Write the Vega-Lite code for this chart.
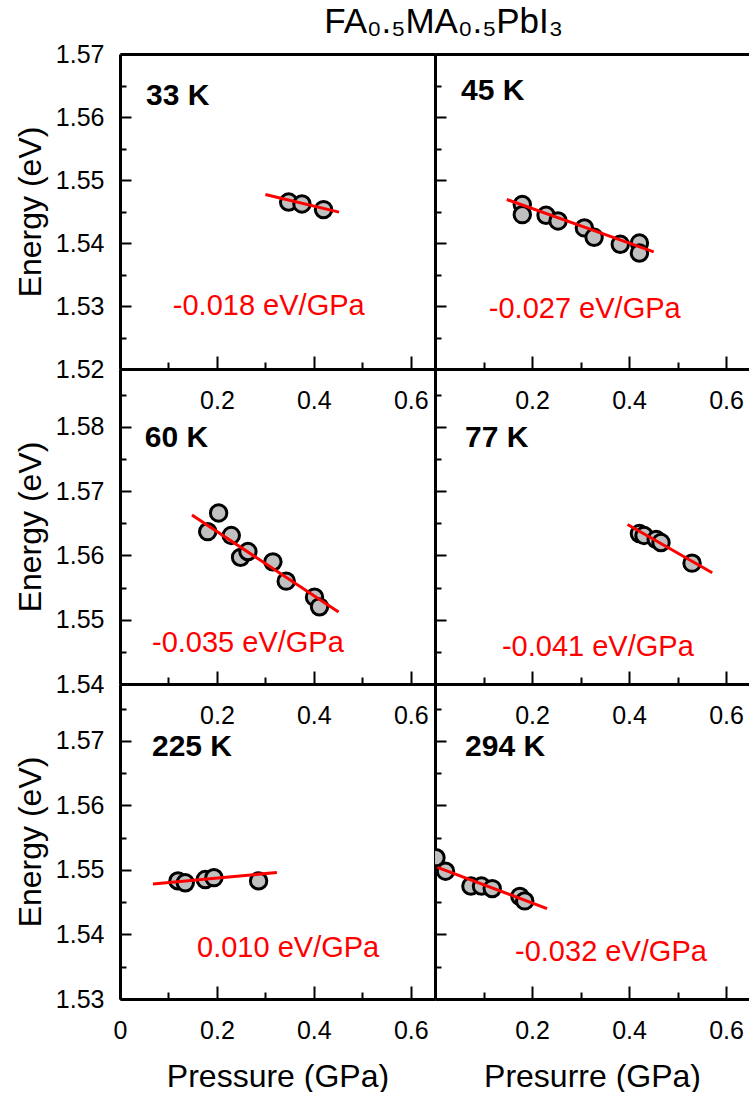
{
  "$schema": "https://vega.github.io/schema/vega-lite/v6.json",
  "background": "white",
  "padding": {"left": 14, "top": 5, "right": 0, "bottom": 0},
  "title": {"text": "FA₀.₅MA₀.₅PbI₃", "anchor": "middle", "dx": 62, "fontSize": 35, "offset": 2, "font": "Liberation Sans", "fontWeight": "normal", "color": "black"},
  "config": {
    "view": {"stroke": null},
    "axis": {"domainColor": "black", "domainWidth": 3, "tickColor": "black", "tickWidth": 2, "labelFont": "Liberation Sans", "labelFontSize": 25, "labelColor": "black", "titleFont": "Liberation Sans", "titleFontSize": 32, "titleFontWeight": "normal", "titleColor": "black", "grid": false, "labelFlush": false, "labelOverlap": false, "zindex": 1}
  },
  "datasets": {
    "pts": [
      {"panel": "33 K", "P": 0.348, "E": 1.5465},
      {"panel": "33 K", "P": 0.3755, "E": 1.5462},
      {"panel": "33 K", "P": 0.42, "E": 1.5453},
      {"panel": "45 K", "P": 0.18, "E": 1.5461},
      {"panel": "45 K", "P": 0.18, "E": 1.5445},
      {"panel": "45 K", "P": 0.229, "E": 1.5444},
      {"panel": "45 K", "P": 0.2537, "E": 1.5435},
      {"panel": "45 K", "P": 0.308, "E": 1.5424},
      {"panel": "45 K", "P": 0.328, "E": 1.5409},
      {"panel": "45 K", "P": 0.382, "E": 1.5398},
      {"panel": "45 K", "P": 0.4215, "E": 1.54},
      {"panel": "45 K", "P": 0.4215, "E": 1.5384},
      {"panel": "60 K", "P": 0.181, "E": 1.5637},
      {"panel": "60 K", "P": 0.2035, "E": 1.5666},
      {"panel": "60 K", "P": 0.2296, "E": 1.5631},
      {"panel": "60 K", "P": 0.2488, "E": 1.5597},
      {"panel": "60 K", "P": 0.264, "E": 1.5606},
      {"panel": "60 K", "P": 0.3155, "E": 1.559},
      {"panel": "60 K", "P": 0.343, "E": 1.556},
      {"panel": "60 K", "P": 0.4014, "E": 1.5535},
      {"panel": "60 K", "P": 0.4117, "E": 1.552},
      {"panel": "77 K", "P": 0.4215, "E": 1.5634},
      {"panel": "77 K", "P": 0.431, "E": 1.5631},
      {"panel": "77 K", "P": 0.456, "E": 1.5625},
      {"panel": "77 K", "P": 0.466, "E": 1.562},
      {"panel": "77 K", "P": 0.53, "E": 1.5588},
      {"panel": "225 K", "P": 0.1196, "E": 1.5483},
      {"panel": "225 K", "P": 0.1347, "E": 1.548},
      {"panel": "225 K", "P": 0.176, "E": 1.5485},
      {"panel": "225 K", "P": 0.1938, "E": 1.5488},
      {"panel": "225 K", "P": 0.286, "E": 1.5483},
      {"panel": "294 K", "P": 0.002, "E": 1.5519},
      {"panel": "294 K", "P": 0.0217, "E": 1.5498},
      {"panel": "294 K", "P": 0.074, "E": 1.5475},
      {"panel": "294 K", "P": 0.0958, "E": 1.5475},
      {"panel": "294 K", "P": 0.118, "E": 1.5471},
      {"panel": "294 K", "P": 0.175, "E": 1.5459},
      {"panel": "294 K", "P": 0.185, "E": 1.5452}
    ],
    "fits": [
      {"panel": "33 K", "P": 0.3, "E": 1.5477},
      {"panel": "33 K", "P": 0.452, "E": 1.5449},
      {"panel": "45 K", "P": 0.148, "E": 1.5469},
      {"panel": "45 K", "P": 0.451, "E": 1.5386},
      {"panel": "60 K", "P": 0.1485, "E": 1.5663},
      {"panel": "60 K", "P": 0.451, "E": 1.5512},
      {"panel": "77 K", "P": 0.397, "E": 1.5648},
      {"panel": "77 K", "P": 0.5716, "E": 1.5573},
      {"panel": "225 K", "P": 0.068, "E": 1.5478},
      {"panel": "225 K", "P": 0.3237, "E": 1.5496},
      {"panel": "294 K", "P": 0.005, "E": 1.5504},
      {"panel": "294 K", "P": 0.231, "E": 1.544}
    ],
    "notes": [
      {"panel": "33 K", "kind": "name", "text": "33 K", "P": 0.0536, "E": 1.5619},
      {"panel": "45 K", "kind": "name", "text": "45 K", "P": 0.0536, "E": 1.5627},
      {"panel": "60 K", "kind": "name", "text": "60 K", "P": 0.051, "E": 1.5769},
      {"panel": "77 K", "kind": "name", "text": "77 K", "P": 0.062, "E": 1.5769},
      {"panel": "225 K", "kind": "name", "text": "225 K", "P": 0.066, "E": 1.5677},
      {"panel": "294 K", "kind": "name", "text": "294 K", "P": 0.062, "E": 1.5677},
      {"panel": "33 K", "kind": "slope", "text": "-0.018 eV/GPa", "P": 0.109, "E": 1.5286},
      {"panel": "45 K", "kind": "slope", "text": "-0.027 eV/GPa", "P": 0.111, "E": 1.5281},
      {"panel": "60 K", "kind": "slope", "text": "-0.035 eV/GPa", "P": 0.066, "E": 1.545},
      {"panel": "77 K", "kind": "slope", "text": "-0.041 eV/GPa", "P": 0.138, "E": 1.5444},
      {"panel": "225 K", "kind": "slope", "text": "0.010 eV/GPa", "P": 0.159, "E": 1.5365},
      {"panel": "294 K", "kind": "slope", "text": "-0.032 eV/GPa", "P": 0.165, "E": 1.5359}
    ]
  },
  "columns": 2,
  "spacing": 0,
  "bounds": "flush",
  "concat": [
    {
      "width": 315, "height": 315,
      "layer": [
        {"data": {"name": "pts"}, "transform": [{"filter": "datum.panel === '33 K'"}],
         "mark": {"type": "circle", "fill": "#c0c0c0", "stroke": "black", "strokeWidth": 3, "size": 270, "opacity": 1},
         "encoding": {
           "x": {"field": "P", "type": "quantitative", "scale": {"domain": [0, 0.65], "nice": false, "zero": false}, "axis": {"orient": "bottom", "values": [0.2, 0.4, 0.6], "format": "~g", "tickSize": -13, "labelPadding": 32, "title": null}},
           "y": {"field": "E", "type": "quantitative", "scale": {"domain": [1.52, 1.57], "nice": false, "zero": false}, "axis": {"orient": "left", "values": [1.52, 1.53, 1.54, 1.55, 1.56, 1.57], "format": ".2f", "tickSize": -11, "labelPadding": 27, "title": "Energy (eV)", "titlePadding": 8}}}},
        {"data": {"name": "fits"}, "transform": [{"filter": "datum.panel === '33 K'"}],
         "mark": {"type": "line", "color": "#ff0000", "strokeWidth": 3},
         "encoding": {
           "x": {"field": "P", "type": "quantitative", "scale": {"domain": [0, 0.65], "nice": false, "zero": false}, "axis": {"orient": "bottom", "values": [0.1, 0.3, 0.5], "tickSize": -7, "labels": false, "domain": false, "title": null}},
           "y": {"field": "E", "type": "quantitative", "scale": {"domain": [1.52, 1.57], "nice": false, "zero": false}, "axis": {"orient": "left", "values": [1.525, 1.535, 1.545, 1.555, 1.565], "tickSize": -6, "labels": false, "domain": false, "title": null}}}},
        {"data": {"name": "notes"}, "transform": [{"filter": "datum.panel === '33 K' && datum.kind === 'name'"}],
         "mark": {"type": "text", "align": "left", "baseline": "alphabetic", "font": "Liberation Sans", "fontSize": 30, "fontWeight": "bold", "color": "black"},
         "encoding": {
           "x": {"field": "P", "type": "quantitative", "scale": {"domain": [0, 0.65], "nice": false, "zero": false}, "axis": {"orient": "top", "ticks": false, "labels": false, "title": null, "domain": true}},
           "y": {"field": "E", "type": "quantitative", "scale": {"domain": [1.52, 1.57], "nice": false, "zero": false}, "axis": null},
           "text": {"field": "text"}}},
        {"data": {"name": "notes"}, "transform": [{"filter": "datum.panel === '33 K' && datum.kind === 'slope'"}],
         "mark": {"type": "text", "align": "left", "baseline": "alphabetic", "font": "Liberation Sans", "fontSize": 29, "color": "#ff0000"},
         "encoding": {
           "x": {"field": "P", "type": "quantitative", "scale": {"domain": [0, 0.65], "nice": false, "zero": false}, "axis": null},
           "y": {"field": "E", "type": "quantitative", "scale": {"domain": [1.52, 1.57], "nice": false, "zero": false}, "axis": null},
           "text": {"field": "text"}}}
      ],
      "resolve": {"axis": {"x": "independent", "y": "independent"}}
    },
    {
      "width": 314, "height": 315,
      "layer": [
        {"data": {"name": "pts"}, "transform": [{"filter": "datum.panel === '45 K'"}],
         "mark": {"type": "circle", "fill": "#c0c0c0", "stroke": "black", "strokeWidth": 3, "size": 270, "opacity": 1},
         "encoding": {
           "x": {"field": "P", "type": "quantitative", "scale": {"domain": [0, 0.6474], "nice": false, "zero": false}, "axis": {"orient": "bottom", "values": [0.2, 0.4, 0.6], "format": "~g", "tickSize": -13, "labelPadding": 32, "title": null}},
           "y": {"field": "E", "type": "quantitative", "scale": {"domain": [1.52, 1.57], "nice": false, "zero": false}, "axis": {"orient": "left", "values": [1.52, 1.53, 1.54, 1.55, 1.56, 1.57], "tickSize": -11, "labels": false, "title": null}}}},
        {"data": {"name": "fits"}, "transform": [{"filter": "datum.panel === '45 K'"}],
         "mark": {"type": "line", "color": "#ff0000", "strokeWidth": 3},
         "encoding": {
           "x": {"field": "P", "type": "quantitative", "scale": {"domain": [0, 0.6474], "nice": false, "zero": false}, "axis": {"orient": "bottom", "values": [0.1, 0.3, 0.5], "tickSize": -7, "labels": false, "domain": false, "title": null}},
           "y": {"field": "E", "type": "quantitative", "scale": {"domain": [1.52, 1.57], "nice": false, "zero": false}, "axis": {"orient": "left", "values": [1.525, 1.535, 1.545, 1.555, 1.565], "tickSize": -6, "labels": false, "domain": false, "title": null}}}},
        {"data": {"name": "notes"}, "transform": [{"filter": "datum.panel === '45 K' && datum.kind === 'name'"}],
         "mark": {"type": "text", "align": "left", "baseline": "alphabetic", "font": "Liberation Sans", "fontSize": 30, "fontWeight": "bold", "color": "black"},
         "encoding": {
           "x": {"field": "P", "type": "quantitative", "scale": {"domain": [0, 0.6474], "nice": false, "zero": false}, "axis": {"orient": "top", "ticks": false, "labels": false, "title": null, "domain": true}},
           "y": {"field": "E", "type": "quantitative", "scale": {"domain": [1.52, 1.57], "nice": false, "zero": false}, "axis": null},
           "text": {"field": "text"}}},
        {"data": {"name": "notes"}, "transform": [{"filter": "datum.panel === '45 K' && datum.kind === 'slope'"}],
         "mark": {"type": "text", "align": "left", "baseline": "alphabetic", "font": "Liberation Sans", "fontSize": 29, "color": "#ff0000"},
         "encoding": {
           "x": {"field": "P", "type": "quantitative", "scale": {"domain": [0, 0.6474], "nice": false, "zero": false}, "axis": null},
           "y": {"field": "E", "type": "quantitative", "scale": {"domain": [1.52, 1.57], "nice": false, "zero": false}, "axis": null},
           "text": {"field": "text"}}}
      ],
      "resolve": {"axis": {"x": "independent", "y": "independent"}}
    },
    {
      "width": 315, "height": 315,
      "layer": [
        {"data": {"name": "pts"}, "transform": [{"filter": "datum.panel === '60 K'"}],
         "mark": {"type": "circle", "fill": "#c0c0c0", "stroke": "black", "strokeWidth": 3, "size": 270, "opacity": 1},
         "encoding": {
           "x": {"field": "P", "type": "quantitative", "scale": {"domain": [0, 0.65], "nice": false, "zero": false}, "axis": {"orient": "bottom", "values": [0.2, 0.4, 0.6], "format": "~g", "tickSize": -13, "labelPadding": 32, "title": null}},
           "y": {"field": "E", "type": "quantitative", "scale": {"domain": [1.54, 1.589], "nice": false, "zero": false}, "axis": {"orient": "left", "values": [1.54, 1.55, 1.56, 1.57, 1.58], "format": ".2f", "tickSize": -11, "labelPadding": 27, "title": "Energy (eV)", "titlePadding": 8}}}},
        {"data": {"name": "fits"}, "transform": [{"filter": "datum.panel === '60 K'"}],
         "mark": {"type": "line", "color": "#ff0000", "strokeWidth": 3},
         "encoding": {
           "x": {"field": "P", "type": "quantitative", "scale": {"domain": [0, 0.65], "nice": false, "zero": false}, "axis": {"orient": "bottom", "values": [0.1, 0.3, 0.5], "tickSize": -7, "labels": false, "domain": false, "title": null}},
           "y": {"field": "E", "type": "quantitative", "scale": {"domain": [1.54, 1.589], "nice": false, "zero": false}, "axis": {"orient": "left", "values": [1.545, 1.555, 1.565, 1.575, 1.585], "tickSize": -6, "labels": false, "domain": false, "title": null}}}},
        {"data": {"name": "notes"}, "transform": [{"filter": "datum.panel === '60 K' && datum.kind === 'name'"}],
         "mark": {"type": "text", "align": "left", "baseline": "alphabetic", "font": "Liberation Sans", "fontSize": 30, "fontWeight": "bold", "color": "black"},
         "encoding": {
           "x": {"field": "P", "type": "quantitative", "scale": {"domain": [0, 0.65], "nice": false, "zero": false}, "axis": null},
           "y": {"field": "E", "type": "quantitative", "scale": {"domain": [1.54, 1.589], "nice": false, "zero": false}, "axis": null},
           "text": {"field": "text"}}},
        {"data": {"name": "notes"}, "transform": [{"filter": "datum.panel === '60 K' && datum.kind === 'slope'"}],
         "mark": {"type": "text", "align": "left", "baseline": "alphabetic", "font": "Liberation Sans", "fontSize": 29, "color": "#ff0000"},
         "encoding": {
           "x": {"field": "P", "type": "quantitative", "scale": {"domain": [0, 0.65], "nice": false, "zero": false}, "axis": null},
           "y": {"field": "E", "type": "quantitative", "scale": {"domain": [1.54, 1.589], "nice": false, "zero": false}, "axis": null},
           "text": {"field": "text"}}}
      ],
      "resolve": {"axis": {"x": "independent", "y": "independent"}}
    },
    {
      "width": 314, "height": 315,
      "layer": [
        {"data": {"name": "pts"}, "transform": [{"filter": "datum.panel === '77 K'"}],
         "mark": {"type": "circle", "fill": "#c0c0c0", "stroke": "black", "strokeWidth": 3, "size": 270, "opacity": 1},
         "encoding": {
           "x": {"field": "P", "type": "quantitative", "scale": {"domain": [0, 0.6474], "nice": false, "zero": false}, "axis": {"orient": "bottom", "values": [0.2, 0.4, 0.6], "format": "~g", "tickSize": -13, "labelPadding": 32, "title": null}},
           "y": {"field": "E", "type": "quantitative", "scale": {"domain": [1.54, 1.589], "nice": false, "zero": false}, "axis": {"orient": "left", "values": [1.54, 1.55, 1.56, 1.57, 1.58], "tickSize": -11, "labels": false, "title": null}}}},
        {"data": {"name": "fits"}, "transform": [{"filter": "datum.panel === '77 K'"}],
         "mark": {"type": "line", "color": "#ff0000", "strokeWidth": 3},
         "encoding": {
           "x": {"field": "P", "type": "quantitative", "scale": {"domain": [0, 0.6474], "nice": false, "zero": false}, "axis": {"orient": "bottom", "values": [0.1, 0.3, 0.5], "tickSize": -7, "labels": false, "domain": false, "title": null}},
           "y": {"field": "E", "type": "quantitative", "scale": {"domain": [1.54, 1.589], "nice": false, "zero": false}, "axis": {"orient": "left", "values": [1.545, 1.555, 1.565, 1.575, 1.585], "tickSize": -6, "labels": false, "domain": false, "title": null}}}},
        {"data": {"name": "notes"}, "transform": [{"filter": "datum.panel === '77 K' && datum.kind === 'name'"}],
         "mark": {"type": "text", "align": "left", "baseline": "alphabetic", "font": "Liberation Sans", "fontSize": 30, "fontWeight": "bold", "color": "black"},
         "encoding": {
           "x": {"field": "P", "type": "quantitative", "scale": {"domain": [0, 0.6474], "nice": false, "zero": false}, "axis": null},
           "y": {"field": "E", "type": "quantitative", "scale": {"domain": [1.54, 1.589], "nice": false, "zero": false}, "axis": null},
           "text": {"field": "text"}}},
        {"data": {"name": "notes"}, "transform": [{"filter": "datum.panel === '77 K' && datum.kind === 'slope'"}],
         "mark": {"type": "text", "align": "left", "baseline": "alphabetic", "font": "Liberation Sans", "fontSize": 29, "color": "#ff0000"},
         "encoding": {
           "x": {"field": "P", "type": "quantitative", "scale": {"domain": [0, 0.6474], "nice": false, "zero": false}, "axis": null},
           "y": {"field": "E", "type": "quantitative", "scale": {"domain": [1.54, 1.589], "nice": false, "zero": false}, "axis": null},
           "text": {"field": "text"}}}
      ],
      "resolve": {"axis": {"x": "independent", "y": "independent"}}
    },
    {
      "width": 315, "height": 315,
      "layer": [
        {"data": {"name": "pts"}, "transform": [{"filter": "datum.panel === '225 K'"}],
         "mark": {"type": "circle", "fill": "#c0c0c0", "stroke": "black", "strokeWidth": 3, "size": 270, "opacity": 1},
         "encoding": {
           "x": {"field": "P", "type": "quantitative", "scale": {"domain": [0, 0.65], "nice": false, "zero": false}, "axis": {"orient": "bottom", "values": [0, 0.2, 0.4, 0.6], "format": "~g", "tickSize": -13, "labelPadding": 32, "title": "Pressure (GPa)", "titlePadding": 18}},
           "y": {"field": "E", "type": "quantitative", "scale": {"domain": [1.53, 1.5788], "nice": false, "zero": false}, "axis": {"orient": "left", "values": [1.53, 1.54, 1.55, 1.56, 1.57], "format": ".2f", "tickSize": -11, "labelPadding": 27, "title": "Energy (eV)", "titlePadding": 8}}}},
        {"data": {"name": "fits"}, "transform": [{"filter": "datum.panel === '225 K'"}],
         "mark": {"type": "line", "color": "#ff0000", "strokeWidth": 3},
         "encoding": {
           "x": {"field": "P", "type": "quantitative", "scale": {"domain": [0, 0.65], "nice": false, "zero": false}, "axis": {"orient": "bottom", "values": [0.1, 0.3, 0.5], "tickSize": -7, "labels": false, "domain": false, "title": null}},
           "y": {"field": "E", "type": "quantitative", "scale": {"domain": [1.53, 1.5788], "nice": false, "zero": false}, "axis": {"orient": "left", "values": [1.535, 1.545, 1.555, 1.565, 1.575], "tickSize": -6, "labels": false, "domain": false, "title": null}}}},
        {"data": {"name": "notes"}, "transform": [{"filter": "datum.panel === '225 K' && datum.kind === 'name'"}],
         "mark": {"type": "text", "align": "left", "baseline": "alphabetic", "font": "Liberation Sans", "fontSize": 30, "fontWeight": "bold", "color": "black"},
         "encoding": {
           "x": {"field": "P", "type": "quantitative", "scale": {"domain": [0, 0.65], "nice": false, "zero": false}, "axis": null},
           "y": {"field": "E", "type": "quantitative", "scale": {"domain": [1.53, 1.5788], "nice": false, "zero": false}, "axis": null},
           "text": {"field": "text"}}},
        {"data": {"name": "notes"}, "transform": [{"filter": "datum.panel === '225 K' && datum.kind === 'slope'"}],
         "mark": {"type": "text", "align": "left", "baseline": "alphabetic", "font": "Liberation Sans", "fontSize": 29, "color": "#ff0000"},
         "encoding": {
           "x": {"field": "P", "type": "quantitative", "scale": {"domain": [0, 0.65], "nice": false, "zero": false}, "axis": null},
           "y": {"field": "E", "type": "quantitative", "scale": {"domain": [1.53, 1.5788], "nice": false, "zero": false}, "axis": null},
           "text": {"field": "text"}}}
      ],
      "resolve": {"axis": {"x": "independent", "y": "independent"}}
    },
    {
      "width": 314, "height": 315,
      "layer": [
        {"data": {"name": "pts"}, "transform": [{"filter": "datum.panel === '294 K'"}],
         "mark": {"type": "circle", "fill": "#c0c0c0", "stroke": "black", "strokeWidth": 3, "size": 270, "opacity": 1, "clip": true},
         "encoding": {
           "x": {"field": "P", "type": "quantitative", "scale": {"domain": [0, 0.6474], "nice": false, "zero": false}, "axis": {"orient": "bottom", "values": [0.2, 0.4, 0.6], "format": "~g", "tickSize": -13, "labelPadding": 32, "title": "Presurre (GPa)", "titlePadding": 18}},
           "y": {"field": "E", "type": "quantitative", "scale": {"domain": [1.53, 1.5788], "nice": false, "zero": false}, "axis": {"orient": "left", "values": [1.53, 1.54, 1.55, 1.56, 1.57], "tickSize": -11, "labels": false, "title": null}}}},
        {"data": {"name": "fits"}, "transform": [{"filter": "datum.panel === '294 K'"}],
         "mark": {"type": "line", "color": "#ff0000", "strokeWidth": 3},
         "encoding": {
           "x": {"field": "P", "type": "quantitative", "scale": {"domain": [0, 0.6474], "nice": false, "zero": false}, "axis": {"orient": "bottom", "values": [0.1, 0.3, 0.5], "tickSize": -7, "labels": false, "domain": false, "title": null}},
           "y": {"field": "E", "type": "quantitative", "scale": {"domain": [1.53, 1.5788], "nice": false, "zero": false}, "axis": {"orient": "left", "values": [1.535, 1.545, 1.555, 1.565, 1.575], "tickSize": -6, "labels": false, "domain": false, "title": null}}}},
        {"data": {"name": "notes"}, "transform": [{"filter": "datum.panel === '294 K' && datum.kind === 'name'"}],
         "mark": {"type": "text", "align": "left", "baseline": "alphabetic", "font": "Liberation Sans", "fontSize": 30, "fontWeight": "bold", "color": "black"},
         "encoding": {
           "x": {"field": "P", "type": "quantitative", "scale": {"domain": [0, 0.6474], "nice": false, "zero": false}, "axis": null},
           "y": {"field": "E", "type": "quantitative", "scale": {"domain": [1.53, 1.5788], "nice": false, "zero": false}, "axis": null},
           "text": {"field": "text"}}},
        {"data": {"name": "notes"}, "transform": [{"filter": "datum.panel === '294 K' && datum.kind === 'slope'"}],
         "mark": {"type": "text", "align": "left", "baseline": "alphabetic", "font": "Liberation Sans", "fontSize": 29, "color": "#ff0000"},
         "encoding": {
           "x": {"field": "P", "type": "quantitative", "scale": {"domain": [0, 0.6474], "nice": false, "zero": false}, "axis": null},
           "y": {"field": "E", "type": "quantitative", "scale": {"domain": [1.53, 1.5788], "nice": false, "zero": false}, "axis": null},
           "text": {"field": "text"}}}
      ],
      "resolve": {"axis": {"x": "independent", "y": "independent"}}
    }
  ]
}
